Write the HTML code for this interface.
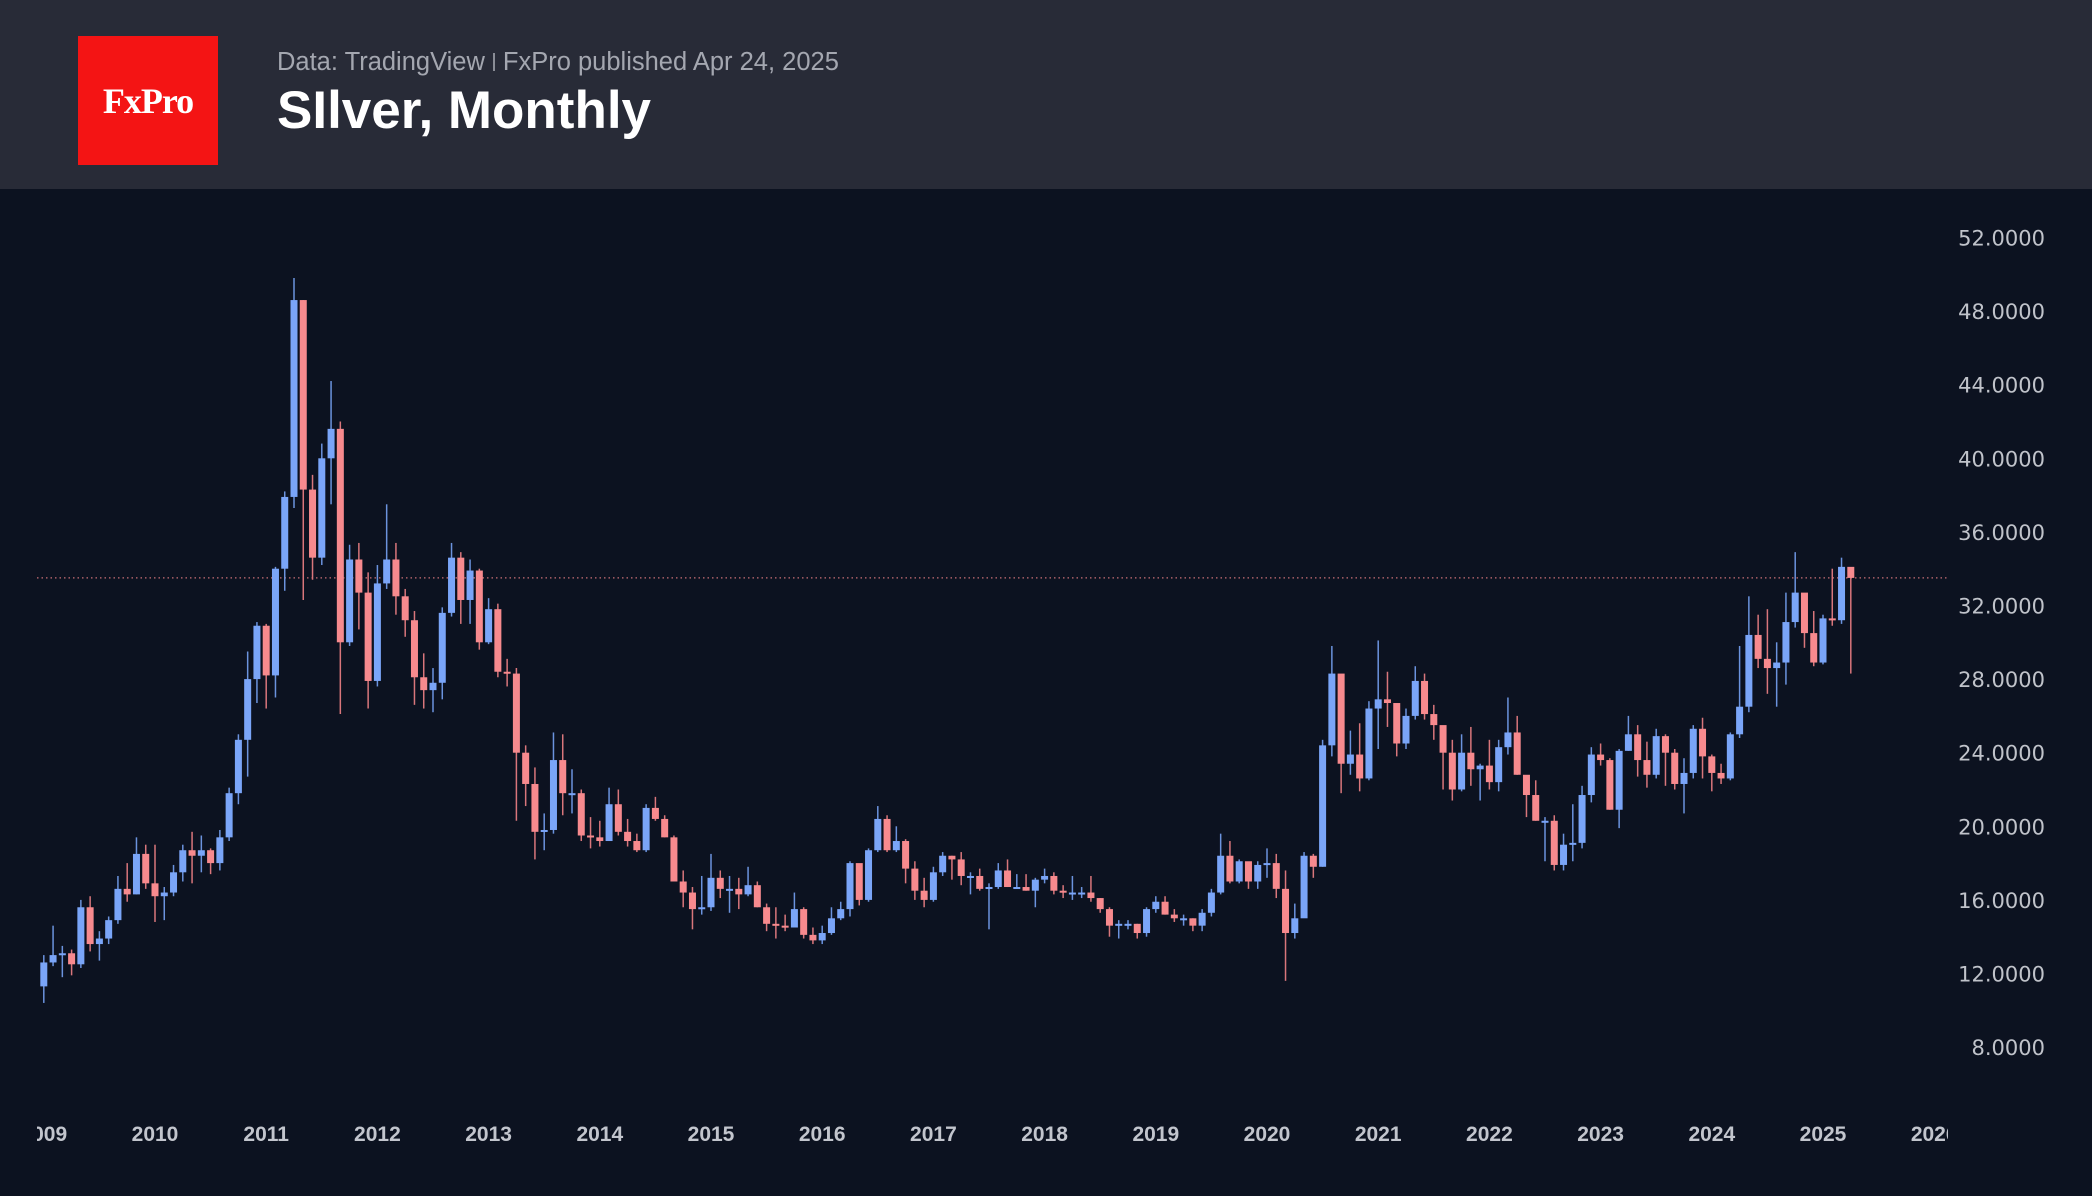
<!DOCTYPE html>
<html><head><meta charset="utf-8"><style>
html,body{margin:0;padding:0;background:#0c1220;}
#wrap{position:relative;width:2092px;height:1196px;overflow:hidden;background:#0c1220;font-family:"Liberation Sans",sans-serif;}
#hdr{position:absolute;left:0;top:0;width:2092px;height:189px;background:#282b37;}
#logo{position:absolute;left:78px;top:36px;width:140px;height:129px;background:#f41414;color:#fff;font-family:"Liberation Serif",serif;font-size:36px;font-weight:bold;display:flex;align-items:center;justify-content:center;letter-spacing:-1px;}
#sub{position:absolute;left:277px;top:48px;font-size:25.5px;color:#a4a7b0;white-space:nowrap;}
#sub .sep{display:inline-block;width:2px;height:18px;background:#8a8d96;margin:0 8px;vertical-align:-1px;}
#title{position:absolute;left:277px;top:80px;font-size:53px;font-weight:bold;color:#fff;white-space:nowrap;}
svg{position:absolute;left:0;top:0;}
</style></head><body>
<div id="wrap">
<div id="hdr">
<div id="logo">FxPro</div>
<div id="sub">Data: TradingView<span class="sep"></span>FxPro published Apr 24, 2025</div>
<div id="title">SIlver, Monthly</div>
</div>
<svg id="chart" width="2092" height="1196">
<defs><clipPath id="xc"><rect x="37" y="1100" width="1911" height="60"/></clipPath></defs>
</svg>
</div>
<script>
const startYear = 2009;
const firstOpen = 11.3;
const closes = [
12.6,13.0,13.1,12.5,15.6,13.6,13.9,14.9,16.6,16.3,18.5,16.9,
16.2,16.4,17.5,18.7,18.4,18.7,18.0,19.4,21.8,24.7,28.0,30.9,
28.2,34.0,37.9,48.6,38.3,34.6,40.0,41.6,30.0,34.5,32.7,27.9,
33.2,34.5,32.5,31.2,28.1,27.4,27.8,31.6,34.6,32.3,33.9,30.0,
31.8,28.4,28.3,24.0,22.3,19.7,19.8,23.6,21.8,21.8,19.5,19.4,
19.2,21.2,19.7,19.2,18.7,21.0,20.4,19.4,17.0,16.4,15.5,15.6,
17.2,16.6,16.6,16.3,16.8,15.6,14.7,14.6,14.5,15.5,14.1,13.8,
14.2,15.0,15.5,18.0,16.0,18.7,20.4,18.7,19.2,17.7,16.5,16.0,
17.5,18.4,18.2,17.3,17.3,16.6,16.7,17.6,16.7,16.7,16.5,17.1,
17.3,16.5,16.4,16.4,16.4,16.1,15.5,14.6,14.7,14.7,14.2,15.5,
15.9,15.2,15.0,15.0,14.6,15.3,16.4,18.4,17.0,18.1,17.0,17.9,
18.0,16.6,14.2,15.0,18.4,17.8,24.4,28.3,23.4,23.9,22.6,26.4,
26.9,26.7,24.5,26.0,27.9,26.1,25.5,24.0,22.0,24.0,23.1,23.3,
22.4,24.3,25.1,22.8,21.7,20.3,20.3,17.9,19.0,19.1,21.7,23.9,
23.6,20.9,24.1,25.0,23.6,22.8,24.9,24.0,22.3,22.9,25.3,23.8,
22.9,22.6,25.0,26.5,30.4,29.1,28.6,28.9,31.1,32.7,30.5,28.9,
31.3,31.2,34.1,33.5];
const highs = [
13.0,14.6,13.5,13.3,16.0,16.2,14.3,15.1,17.3,18.0,19.4,19.0,
19.0,16.7,17.9,19.0,19.7,19.5,18.8,19.8,22.1,25.0,29.5,31.1,
31.0,34.1,38.2,49.8,48.6,39.1,40.8,44.2,42.0,35.3,35.4,33.8,
34.2,37.5,35.4,32.9,31.7,29.4,28.6,31.9,35.4,34.9,34.5,34.0,
32.4,32.1,29.1,28.6,24.4,23.2,20.7,25.1,25.0,23.1,22.0,20.5,
20.3,22.1,22.0,20.4,19.6,21.2,21.6,20.6,19.5,17.6,16.7,17.3,
18.5,17.6,17.3,17.2,17.8,17.0,15.8,15.6,15.2,16.4,15.6,14.5,
14.6,15.6,15.9,18.1,17.8,18.8,21.1,20.6,20.0,19.3,18.1,17.2,
17.8,18.6,18.4,18.6,17.5,17.7,16.9,18.0,18.2,17.4,17.4,17.2,
17.7,17.5,16.8,17.3,16.7,17.3,16.1,15.6,14.9,14.9,14.7,15.6,
16.2,16.2,15.5,15.2,15.0,15.5,16.6,19.6,19.2,18.2,18.0,18.1,
18.8,18.5,17.6,15.8,18.6,18.5,24.7,29.8,28.0,25.2,25.6,26.8,
30.1,28.4,26.6,26.4,28.7,28.3,26.6,24.9,24.7,25.0,25.4,23.4,
24.7,24.7,27.0,26.0,22.6,22.5,20.5,20.6,19.6,21.2,22.2,24.3,
24.5,23.7,24.2,26.0,25.5,24.6,25.3,25.0,24.2,23.7,25.5,25.9,
23.9,23.4,25.1,29.8,32.5,31.5,31.8,30.0,32.7,34.9,32.4,31.7,
31.5,34.0,34.6,34.0];
const lows = [
10.4,12.4,11.8,11.9,12.3,13.2,12.7,13.6,14.7,15.9,16.3,16.6,
14.8,14.9,16.2,17.0,16.9,17.5,17.4,17.6,19.2,21.2,22.7,26.7,
26.4,27.0,32.8,37.3,32.3,33.4,34.2,37.5,26.1,29.8,30.7,26.4,
27.6,32.9,31.5,30.3,26.6,26.4,26.2,26.9,31.4,31.0,31.0,29.6,
29.9,28.1,27.6,20.3,21.1,18.2,18.7,19.6,20.6,20.7,19.2,18.8,
18.9,19.2,19.5,18.9,18.6,18.6,20.3,19.4,17.0,15.6,14.4,15.2,
15.4,16.1,15.3,15.5,16.2,15.6,14.3,13.9,14.3,14.5,13.9,13.6,
13.6,14.1,14.9,15.1,15.7,15.9,18.6,18.6,18.6,16.9,16.0,15.6,
15.9,17.3,17.1,16.8,16.3,16.5,14.4,16.6,16.7,16.6,16.5,15.6,
16.9,16.3,16.1,16.0,16.1,15.9,15.3,14.0,13.9,14.4,13.9,14.0,
15.3,15.2,14.8,14.6,14.3,14.3,15.1,16.3,16.9,16.9,16.6,16.6,
17.2,16.1,11.6,13.9,15.2,17.2,17.8,23.8,21.8,22.8,21.9,22.5,
24.2,25.4,23.8,24.2,25.8,25.8,24.7,22.0,21.4,21.9,22.2,21.4,
22.0,21.9,23.9,22.8,20.5,20.3,18.1,17.6,17.6,18.1,18.8,21.3,
23.3,20.9,19.9,24.1,22.7,22.1,22.6,22.2,22.0,20.7,22.6,22.6,
21.9,22.3,22.5,24.8,26.2,28.6,27.2,26.5,27.7,30.8,29.7,28.7,
28.8,30.9,31.0,28.3];
const yTicks = [8,12,16,20,24,28,32,36,40,44,48,52];
const xYears = [2009,2010,2011,2012,2013,2014,2015,2016,2017,2018,2019,2020,2021,2022,2023,2024,2025,2026];
const lastPrice = 33.5;

const NS = "http://www.w3.org/2000/svg";
const svg = document.getElementById('chart');
const Y = p => 237.5 + (52 - p) * 18.4;
const X = i => 155 + (i - 12) * (111.2 / 12);
function mk(tag, attrs, parent){const e=document.createElementNS(NS,tag);for(const k in attrs)e.setAttribute(k,attrs[k]);(parent||svg).appendChild(e);return e;}

yTicks.forEach(v=>{
  const t=mk('text',{x:2045,y:Y(v)+8,'text-anchor':'end','font-size':21,fill:'#c0c3ca','font-family':'"DejaVu Sans",sans-serif'});
  
  
  t.textContent=v.toFixed(4);
});
const xg=mk('g',{'clip-path':'url(#xc)'});
xYears.forEach(yr=>{
  const t=mk('text',{x:X((yr-startYear)*12),y:1141,'text-anchor':'middle','font-size':21,'font-weight':'bold',fill:'#c2c5cd','font-family':'"Liberation Sans",sans-serif'},xg);
  
  
  t.textContent=yr;
});
const pl=mk('line',{x1:37,x2:1948,y1:Y(lastPrice),y2:Y(lastPrice),stroke:'#f7868b','stroke-width':1.3,'stroke-dasharray':'1.5 3',opacity:0.8});


closes.forEach((c,i)=>{
  const o = i===0 ? firstOpen : closes[i-1];
  const up = c>=o;
  const x = X(i);
  const col = up ? '#7aa5f8' : '#f78a8e';
  const wcol = up ? '#6b93de' : '#d9767b';
  const g=mk('g',{});
  
  
  mk('line',{x1:x,x2:x,y1:Y(highs[i]),y2:Y(lows[i]),stroke:wcol,'stroke-width':1.5},g);
  const top=Y(Math.max(o,c)), bot=Y(Math.min(o,c));
  mk('rect',{x:x-3.5,y:top,width:7,height:Math.max(bot-top,2),fill:col},g);
});
</script>
</body></html>
